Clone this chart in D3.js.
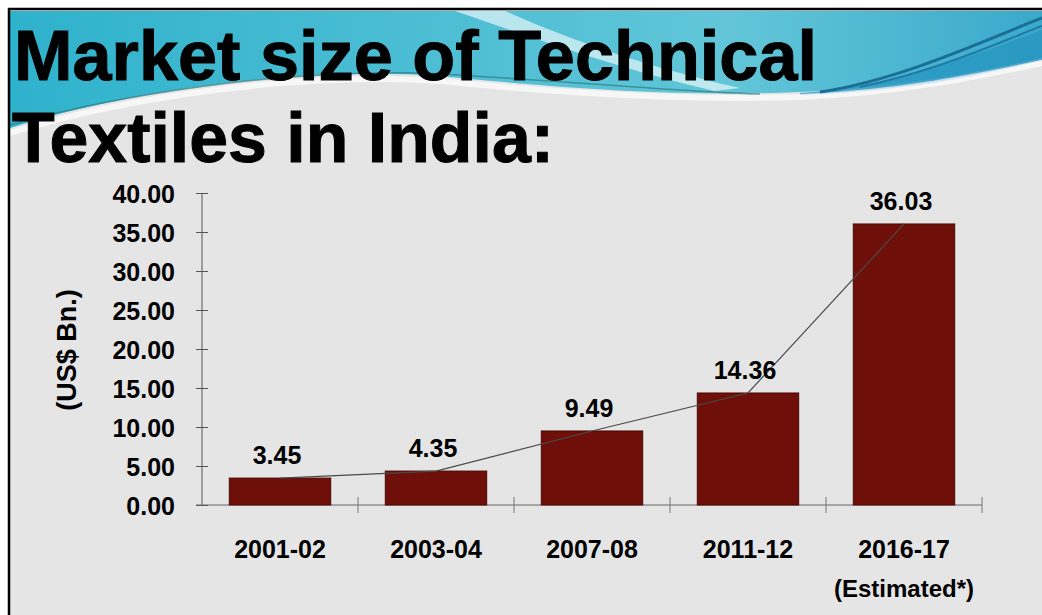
<!DOCTYPE html>
<html>
<head>
<meta charset="utf-8">
<script src="https://cdn.jsdelivr.net/npm/d3@7"></script>
<style>
  body { margin: 0; background: #fff; }
  svg text { font-family: "Liberation Sans", Arial, sans-serif; font-weight: bold; fill: #000; }
</style>
</head>
<body>
<div id="chart-area"></div>
<script>
// chart data
var categories = ["2001-02", "2003-04", "2007-08", "2011-12", "2016-17"];
var subLabels = ["", "", "", "", "(Estimated*)"];
var marketSize = [3.45, 4.35, 9.49, 14.36, 36.03];
var yTicks = [0, 5, 10, 15, 20, 25, 30, 35, 40];

var svgWidth = 1042, svgHeight = 615;

var svg = d3.select("#chart-area").append("svg")
    .attr("width", svgWidth)
    .attr("height", svgHeight);

// slide background + frame
svg.append("rect")
    .attr("x", 9).attr("y", 9)
    .attr("width", svgWidth - 9).attr("height", svgHeight - 9)
    .attr("fill", "#e5e5e5");

// decorative swoosh at the top
var defs = svg.append("defs");
var grad = defs.append("linearGradient").attr("id", "teal")
    .attr("x1", "0").attr("x2", "1").attr("y1", "0").attr("y2", "0");
grad.append("stop").attr("offset", "0").attr("stop-color", "#2fb2cc");
grad.append("stop").attr("offset", "0.35").attr("stop-color", "#48bcd3");
grad.append("stop").attr("offset", "0.7").attr("stop-color", "#62c6d8");
grad.append("stop").attr("offset", "1").attr("stop-color", "#3aa9cb");

var deco = svg.append("g");
deco.append("path")
    .attr("d", "M10,11 H1042 V58 C980,72 900,88 800,92 C680,97 560,88 440,76 C300,66 130,90 10,128 Z")
    .attr("fill", "url(#teal)");
deco.append("path")
    .attr("d", "M455,11 L505,11 C570,40 650,68 740,88 L715,91 C630,72 545,42 455,11 Z")
    .attr("fill", "#ffffff").attr("opacity", 0.6);
deco.append("path")
    .attr("d", "M800,93 C900,86 980,52 1042,30 V60 C980,76 900,92 800,95 Z")
    .attr("fill", "#2796c0").attr("opacity", 0.8);
deco.append("path")
    .attr("d", "M10,133 C130,96 300,72 440,81 C560,93 680,101 800,97 C900,93 980,76 1042,63")
    .attr("fill", "none").attr("stroke", "#ffffff").attr("stroke-width", 6).attr("opacity", 0.7);
deco.append("path")
    .attr("d", "M10,125 C120,94 280,70 420,73 C560,80 680,92 760,94")
    .attr("fill", "none").attr("stroke", "#2f7a80").attr("stroke-width", 1.5).attr("opacity", 0.7);
deco.append("path")
    .attr("d", "M820,92 C900,80 980,42 1042,18")
    .attr("fill", "none").attr("stroke", "#1b6e96").attr("stroke-width", 3);
deco.append("path")
    .attr("d", "M860,87 C940,70 1000,42 1042,26")
    .attr("fill", "none").attr("stroke", "#1f7aa6").attr("stroke-width", 2);

// frame lines (top and left)
svg.append("line").attr("x1", 8).attr("x2", svgWidth).attr("y1", 9).attr("y2", 9)
    .attr("stroke", "#000").attr("stroke-width", 2.5);
svg.append("line").attr("x1", 9).attr("x2", 9).attr("y1", 8).attr("y2", svgHeight)
    .attr("stroke", "#000").attr("stroke-width", 2.5);

// title (slightly heavier than plain bold, like the slide)
svg.append("text").attr("x", 14).attr("y", 80)
    .style("font-size", "71px")
    .attr("stroke", "#000").attr("stroke-width", 1)
    .attr("textLength", 803).attr("lengthAdjust", "spacingAndGlyphs")
    .text("Market size of Technical");
svg.append("text").attr("x", 12).attr("y", 162)
    .style("font-size", "71px")
    .attr("stroke", "#000").attr("stroke-width", 1)
    .attr("textLength", 542).attr("lengthAdjust", "spacingAndGlyphs")
    .text("Textiles in India:");

// scales
var x = d3.scaleBand()
    .domain(categories)
    .range([202, 982])
    .paddingInner(0.35)
    .paddingOuter(0.175);

var y = d3.scaleLinear()
    .domain([0, 40])
    .range([505, 193]);

// y axis
var yAxis = svg.append("g")
    .attr("transform", "translate(202,0)")
    .call(d3.axisLeft(y).tickValues(yTicks).tickSize(6).tickPadding(21)
        .tickFormat(d3.format(".2f")));
yAxis.select(".domain").attr("stroke", "#555").attr("d", "M0,193V505");
yAxis.selectAll(".tick line").attr("stroke", "#555");
yAxis.selectAll(".tick").append("line")
    .attr("x1", 0).attr("x2", 6).attr("stroke", "#555");
yAxis.selectAll(".tick text")
    .style("font-size", "25px")
    .attr("dy", "0.36em");

// y axis title
svg.append("text")
    .attr("transform", "translate(76,350) rotate(-90)")
    .attr("text-anchor", "middle")
    .style("font-size", "27px")
    .text("(US$ Bn.)");

// x axis line with ticks at band edges
var xAxis = svg.append("g");
xAxis.append("line")
    .attr("x1", 196).attr("x2", 982)
    .attr("y1", y(0)).attr("y2", y(0))
    .attr("stroke", "#666");
xAxis.selectAll(".xtick")
    .data(categories)
    .enter().append("line")
    .attr("class", "xtick")
    .attr("x1", function(d) { return x(d) + x.bandwidth() + x.step() * x.paddingOuter(); })
    .attr("x2", function(d) { return x(d) + x.bandwidth() + x.step() * x.paddingOuter(); })
    .attr("y1", y(0) - 8).attr("y2", y(0) + 8)
    .attr("stroke", "#777");

// category labels
xAxis.selectAll(".xlabel")
    .data(categories)
    .enter().append("text")
    .attr("class", "xlabel")
    .attr("x", function(d) { return x(d) + x.bandwidth() / 2; })
    .attr("y", 558)
    .attr("text-anchor", "middle")
    .style("font-size", "25px")
    .text(function(d) { return d; });
xAxis.selectAll(".xsub")
    .data(categories)
    .enter().append("text")
    .attr("class", "xsub")
    .attr("x", function(d) { return x(d) + x.bandwidth() / 2; })
    .attr("y", 597)
    .attr("text-anchor", "middle")
    .style("font-size", "24px")
    .text(function(d, i) { return subLabels[i]; });

// bars
svg.selectAll(".bar")
    .data(marketSize)
    .enter().append("rect")
    .attr("class", "bar")
    .attr("x", function(d, i) { return x(categories[i]); })
    .attr("y", function(d) { return y(d); })
    .attr("width", x.bandwidth())
    .attr("height", function(d) { return y(0) - y(d); })
    .attr("fill", "#6e0f0a")
    .attr("stroke", "#4a0805")
    .attr("stroke-width", 1);

// trend line through bar tops
var line = d3.line()
    .x(function(d, i) { return x(categories[i]) + x.bandwidth() / 2; })
    .y(function(d) { return y(d); });
svg.append("path")
    .datum(marketSize)
    .attr("d", line)
    .attr("fill", "none")
    .attr("stroke", "#4a4a4a")
    .attr("stroke-width", 1.2);

// value labels
svg.selectAll(".value")
    .data(marketSize)
    .enter().append("text")
    .attr("class", "value")
    .attr("x", function(d, i) { return x(categories[i]) + x.bandwidth() / 2 - 3; })
    .attr("y", function(d) { return y(d) - 14; })
    .attr("text-anchor", "middle")
    .style("font-size", "25px")
    .text(function(d) { return d3.format(".2f")(d); });
</script>
</body>
</html>
